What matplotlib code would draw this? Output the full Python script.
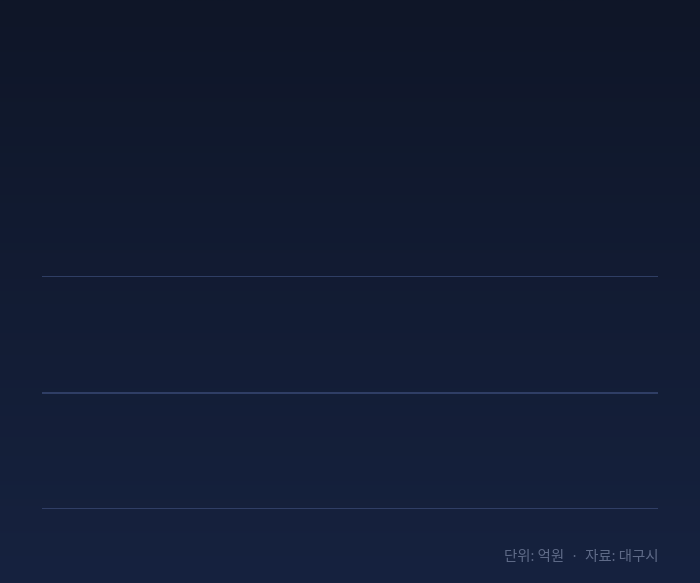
import numpy as np
import matplotlib.pyplot as plt

plt.rcParams['font.family'] = ['Noto Sans CJK KR', 'DejaVu Sans']

# gridline levels shown on the (empty) chart
grid_levels = [0, 1, 2]
footer = '단위: 억원  ·  자료: 대구시'

bg_top = np.array([0x0f, 0x16, 0x28]) / 255
bg_bottom = np.array([0x16, 0x22, 0x3f]) / 255

fig = plt.figure(figsize=(7, 5.83), dpi=100)

# background gradient
bg = fig.add_axes([0, 0, 1, 1], zorder=0)
t = np.linspace(0, 1, 256)[:, None]
grad = bg_top[None, None, :] * (1 - t[:, :, None]) + bg_bottom[None, None, :] * t[:, :, None]
bg.imshow(np.repeat(grad, 2, axis=1), aspect='auto', extent=[0, 1, 0, 1])
bg.axis('off')

ax = fig.add_axes([0.06, 0.1269, 0.88, 0.3997], zorder=1)
ax.patch.set_alpha(0)
ax.set_xlim(0, 1)
ax.set_ylim(grid_levels[0], grid_levels[-1])
for lv in grid_levels:
    ax.axhline(lv, color='#33426a', lw=1.3)
for s in ax.spines.values():
    s.set_visible(False)
ax.set_xticks([])
ax.set_yticks([])

fig.text(0.94, 1 - 557 / 583, footer, ha='right', va='center',
         fontsize=10.4, color='#5f6b88')

fig.savefig('out.png', dpi=100)
